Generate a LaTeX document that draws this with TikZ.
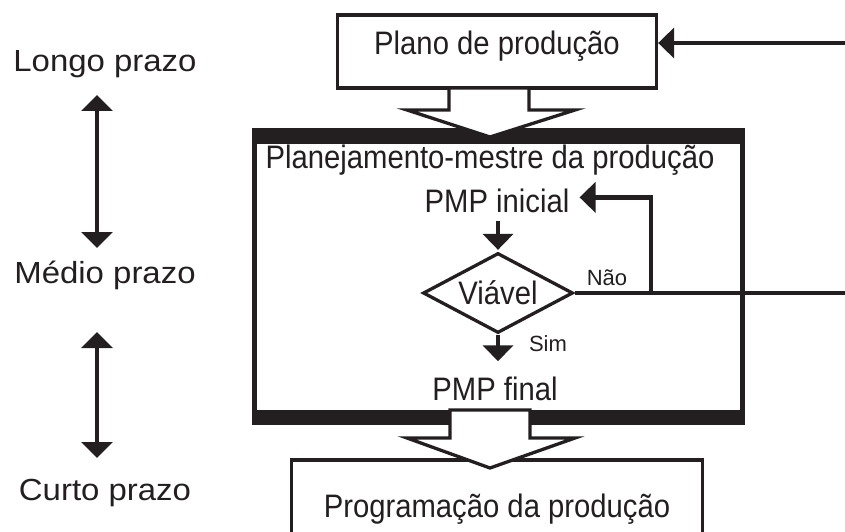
\documentclass[tikz,border=0pt]{standalone}
\usepackage{fontspec}
\setmainfont{Liberation Sans}
\newfontfamily\narrowfont{Liberation Sans}[FakeStretch=0.9]
\newfontfamily\widefont{Liberation Sans}[FakeStretch=1.08]
\usetikzlibrary{arrows.meta, shapes.geometric}

\definecolor{ink}{RGB}{35,31,32}
\tikzset{
  txt/.style={inner sep=0, anchor=base, font=\narrowfont\fontsize{32.5}{38}\selectfont},
  side/.style={inner sep=0, anchor=base, font=\widefont\fontsize{30.5}{36}\selectfont},
  tag/.style={inner sep=0, anchor=base, font=\fontsize{22}{26}\selectfont},
  box/.style={draw=ink, line width=3.3pt},
  cond/.style={diamond, aspect=1.875, draw=ink, line width=3.3pt, inner sep=0,
    minimum width=150pt, minimum height=80pt, font=\narrowfont\fontsize{32.5}{38}\selectfont},
  flow/.style={draw=ink, line width=4.3pt, -{Triangle[length=16pt,width=30pt]}},
  dbl/.style={draw=ink, line width=4.3pt,
    {Triangle[length=16pt,width=31pt]}-{Triangle[length=16pt,width=31pt]}},
  wire/.style={draw=ink, line width=4.3pt},
  blockarrow/.style={draw=ink, fill=white, line width=3.3pt, line join=miter}
}

\begin{document}
\begin{tikzpicture}[x=1pt, y=-1pt, color=ink]
  \useasboundingbox (0,0) rectangle (845,532);

  \node (mps) [fill=ink, inner sep=0, minimum width=493pt, minimum height=297pt] at (498.5,276.5) {};
  \node (mpsin) [fill=white, inner sep=0, minimum width=483pt, minimum height=266pt] at (498.5,277) {};

  \node (plano) [txt, box, text height=40pt, text depth=33pt, minimum width=319pt] at (497,55) {Plano de produção};
  \node (prog) [txt, box, text height=57pt, text depth=40pt, minimum width=411pt] at (497,517) {Programação da produção};

  \draw[blockarrow] (449,88) -- (449,110) -- (407,110) -- (490,137) -- (575,110) -- (529,110) -- (529,88) -- cycle;
  \draw[blockarrow] (450,410) -- (450,438) -- (407,438) -- (490,468) -- (575,438) -- (530,438) -- (530,410) -- cycle;

  \node (titulo) [txt] at (490,168) {Planejamento-mestre da produção};
  \node (pmpi) [txt] at (497,212) {PMP inicial};
  \node (viavel) [cond] at (498,293) {Viável};
  \node (pmpf) [txt] at (495,400) {PMP final};
  \node (nao) [tag] at (607,285) {Não};
  \node (sim) [tag] at (548,351) {Sim};

  \node (longo) [side] at (105,72) {Longo prazo};
  \node (medio) [side] at (105,283) {Médio prazo};
  \node (curto) [side] at (105,500) {Curto prazo};

  \coordinate (fbtop) at (845,43);
  \coordinate (fbmid) at (845,293);
  \coordinate (ret) at (651,293);
  \coordinate (l1) at (97,95);
  \coordinate (l2) at (97,248);
  \coordinate (l3) at (97,332);
  \coordinate (l4) at (97,458);

  \draw[flow, shorten <=8pt, shorten >=1.5pt] (pmpi.south -| viavel.north) -- (viavel.north);
  \draw[flow, shorten >=15pt] (viavel.south) -- (viavel.south |- pmpf.north);
  \draw[wire] (viavel.east) -- (fbmid);
  \draw[flow] (ret) |- ([xshift=10pt,yshift=3pt]pmpi.east);
  \draw[flow] (fbtop) -- (fbtop -| plano.east);
  \draw[dbl] (l1) -- (l2);
  \draw[dbl] (l3) -- (l4);
\end{tikzpicture}
\end{document}
